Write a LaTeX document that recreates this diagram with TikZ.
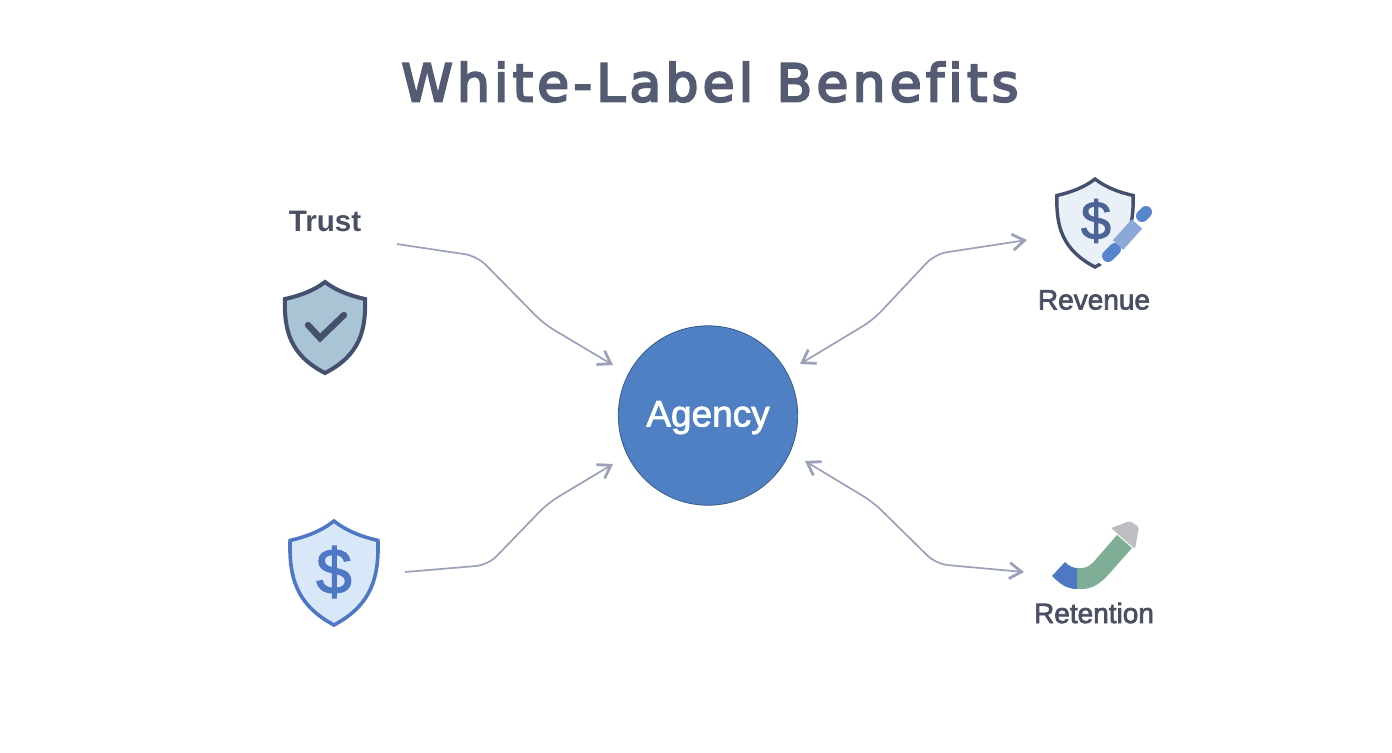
\documentclass[tikz,border=0pt]{standalone}
\usepackage{fontspec}
\setmainfont{Liberation Sans}
\newfontfamily\titlefont[LetterSpace=8,FakeBold=4,Ligatures=NoCommon]{DejaVu Sans}
\newfontfamily\labelfont[FakeBold=2.5]{Liberation Sans}
\newfontfamily\hubfont[FakeBold=2]{Liberation Sans}
\newfontfamily\dollarfont[FakeBold=2]{Liberation Sans}
\usetikzlibrary{arrows.meta}
\definecolor{titlecol}{HTML}{545B73}
\definecolor{labelcol}{HTML}{4A4F63}
\definecolor{linkcol}{HTML}{9BA1B9}
\definecolor{hubcol}{HTML}{4F80C4}
\definecolor{navy}{HTML}{45506E}
\definecolor{trustfill}{HTML}{A9C5D5}
\definecolor{blueedge}{HTML}{4F78C4}
\definecolor{bluefill}{HTML}{D9E8F8}
\definecolor{palefill}{HTML}{E9F0F8}
\definecolor{dollarnavy}{HTML}{4C6396}
\definecolor{penblue}{HTML}{5585CC}
\definecolor{penlight}{HTML}{8AA8D8}
\definecolor{greenarrow}{HTML}{7FAE97}
\definecolor{greyarrow}{HTML}{BDBEC2}
\tikzset{
  x=0.5pt,y=-0.5pt,
  itemlabel/.style={font=\labelfont\fontsize{14}{16}\selectfont,text=labelcol,inner sep=0pt},
  barb/.tip={Straight Barb[length=6pt,width=8pt,line width=1.4pt]},
  link/.style={draw=linkcol,line width=0.85pt,rounded corners=6pt},
  tip/.style={-{barb}},
  bothtips/.style={{barb}-{barb}},
}
% shield centred at x=#1, top y=#2, half-width #3, height #4, fill #5, edge #6, width #7
\newcommand{\shieldshape}[7]{%
  \begin{scope}[shift={(#1,#2)},xscale=#3/42,yscale=#4/91]
    \draw[fill=#5,draw=#6,line width=#7,line join=miter]
      (0,0) .. controls (12,9) and (27,14) .. (41,17)
      .. controls (42,48) and (36,73) .. (0,91)
      .. controls (-36,73) and (-42,48) .. (-41,17)
      .. controls (-27,14) and (-12,9) .. (0,0) -- cycle;
  \end{scope}}
\begin{document}
\begin{tikzpicture}
\useasboundingbox (0,0) rectangle (1392,752);
\fill[white] (0,0) rectangle (1392,752);

\node[font=\titlefont\fontsize{26}{30}\selectfont,text=titlecol,inner sep=0pt] (title) at (710,82) {White-Label\hspace{0.45em}Benefits};

\node[circle,fill=hubcol,draw=hubcol!70!black,line width=0.4pt,minimum size=89.7pt,inner sep=0pt,text=white,font=\hubfont\fontsize{18.5}{20}\selectfont] (hub) at (708,415.5) {\raisebox{-5.5pt}[0pt][0pt]{Agency}};

\node[itemlabel,font=\bfseries\fontsize{14.8}{16}\selectfont] (trust) at (325,221) {Trust};
\node[itemlabel] (revenue) at (1094,300) {Revenue};
\node[itemlabel] (retention) at (1094,613) {Retention};

% Trust shield
\shieldshape{325}{282}{41}{91}{trustfill}{navy}{2pt}
\draw[navy,line width=3.2pt,line cap=round,line join=miter] (308,325) -- (320,338) -- (344,315);

% Dollar shield
\shieldshape{334}{521}{45}{104}{bluefill}{blueedge}{1.8pt}
\node[font=\dollarfont\fontsize{32}{34}\selectfont,text=blueedge,inner sep=0pt] (dollarA) at (334,572) {\$};

% Revenue shield
\shieldshape{1095}{179}{39}{88}{palefill}{navy}{1.7pt}
\node[font=\dollarfont\fontsize{27}{28}\selectfont,text=dollarnavy,inner sep=0pt] (dollarB) at (1096,221) {\$};
\fill[white] (1098,262) -- (1140,213) -- (1160,225) -- (1112,272) -- cycle;
\draw[penblue,line width=6pt,line cap=round] (1108,256) -- (1115,249);
\draw[penlight,line width=7pt] (1118,245) -- (1137,224);
\draw[penblue,line width=6pt,line cap=round] (1142,216) -- (1146,212);

% Retention arrow
\fill[greenarrow] (1077,568) .. controls (1088,569) and (1092,564) .. (1097,558) -- (1117,535) -- (1132,548) -- (1108,575) .. controls (1098,586) and (1089,590) .. (1077,589) -- cycle;
\fill[blueedge] (1065,562) .. controls (1069,566) and (1073,568) .. (1077,568) -- (1077,589) .. controls (1066,589) and (1059,583) .. (1052,576) -- cycle;
\fill[greyarrow,rounded corners=1pt] (1111,528) -- (1130,521) -- (1139,527) -- (1135,549) -- cycle;

% Connectors
\coordinate (t0) at (397,244);
\coordinate (t1) at (477,256);
\coordinate (t2) at (544,324);
\coordinate (t3) at (613,365);
\draw[link,tip] (t0) -- (t1) -- (t2) -- (t3);

\coordinate (d0) at (405,572);
\coordinate (d1) at (488,565);
\coordinate (d2) at (548,503);
\coordinate (d3) at (613,464);
\draw[link,tip] (d0) -- (d1) -- (d2) -- (d3);

\coordinate (r0) at (800,364);
\coordinate (r1) at (873,320);
\coordinate (r2) at (935,254);
\coordinate (r3) at (1027,240);
\draw[link,bothtips] (r0) -- (r1) -- (r2) -- (r3);

\coordinate (b0) at (805,461);
\coordinate (b1) at (873,502);
\coordinate (b2) at (936,564);
\coordinate (b3) at (1024,572);
\draw[link,bothtips] (b0) -- (b1) -- (b2) -- (b3);
\end{tikzpicture}
\end{document}
